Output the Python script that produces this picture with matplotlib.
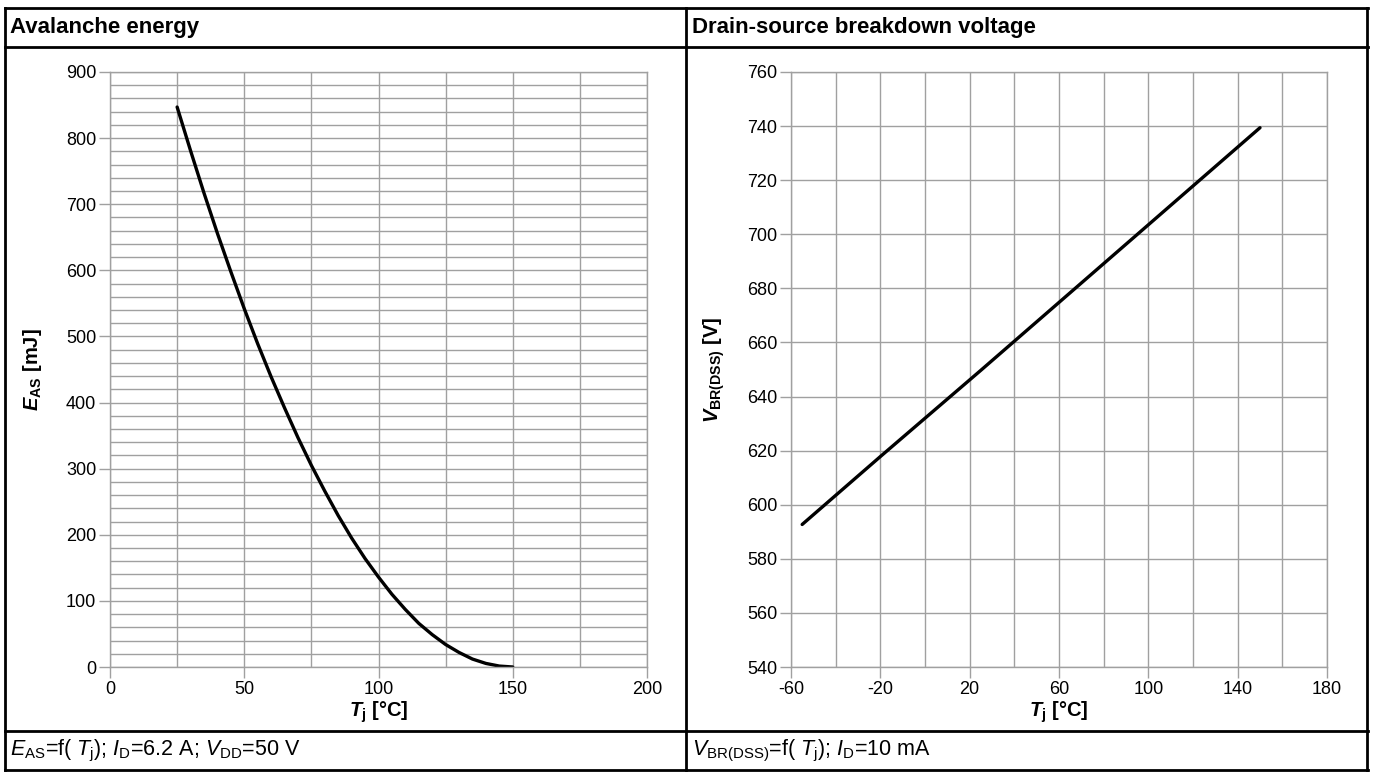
import matplotlib
matplotlib.use("Agg")
import matplotlib.pyplot as plt
from matplotlib.lines import Line2D
import numpy as np

plt.rcParams['font.family'] = ['Liberation Sans', 'DejaVu Sans']
plt.rcParams['mathtext.fontset'] = 'custom'
plt.rcParams['mathtext.rm'] = 'Liberation Sans'
plt.rcParams['mathtext.it'] = 'Liberation Sans:italic'
plt.rcParams['mathtext.bf'] = 'Liberation Sans:bold'
plt.rcParams['mathtext.bfit'] = 'Liberation Sans:bold:italic'
plt.rcParams['axes.unicode_minus'] = False

# ---- data ----
eas_tj = [25, 30, 35, 40, 45, 50, 55, 60, 65, 70, 75, 80, 85, 90, 95, 100,
          105, 110, 115, 120, 125, 130, 135, 140, 145, 150]
eas_mj = [847, 781, 717, 656, 598, 542, 489, 439, 392, 347, 305, 266, 229, 195,
          164, 136, 110, 87, 66, 49, 34, 22, 12, 5.4, 1.4, 0]

vbr_tj = [-55, -20, 25, 60, 100, 150]
vbr_v = [592.7, 617.8, 649.7, 674.8, 703.5, 739.4]

left_xticks = [0, 50, 100, 150, 200]
left_yticks = [0, 100, 200, 300, 400, 500, 600, 700, 800, 900]
right_xticks = [-60, -20, 20, 60, 100, 140, 180]
right_yticks = [540, 560, 580, 600, 620, 640, 660, 680, 700, 720, 740, 760]

W, H = 1374, 772
fig = plt.figure(figsize=(W / 100, H / 100), dpi=100)

def fx(px):
    return px / W

def fy(py):
    return 1 - py / H

GRID = '#a0a0a0'
TICK_FS = 13
LABEL_FS = 14.5

def style_axes(ax):
    for s in ax.spines.values():
        s.set_color(GRID)
        s.set_linewidth(1.0)
    ax.tick_params(axis='both', which='major', direction='out', length=8,
                   width=1.0, color=GRID, labelsize=TICK_FS, pad=2)
    ax.tick_params(axis='both', which='minor', length=0)

# Left axes
axl = fig.add_axes([fx(110), fy(667), fx(537), 595 / H])
axl.set_xlim(0, 200)
axl.set_ylim(0, 900)
axl.set_xticks(left_xticks)
axl.set_yticks(left_yticks)
axl.set_xticks(np.arange(0, 201, 25), minor=True)
axl.set_yticks(np.arange(0, 901, 20), minor=True)
axl.grid(True, which='both', color=GRID, linewidth=1.0)
axl.set_axisbelow(True)
axl.plot(eas_tj, eas_mj, color='black', lw=2.4, solid_capstyle='round')
style_axes(axl)
axl.set_xlabel(r'$\mathbfit{T}_{\mathbf{j}}$ [°C]', fontsize=LABEL_FS, fontweight='bold', labelpad=1)
axl.set_ylabel(r'$\mathbfit{E}_{\mathbf{AS}}$ [mJ]', fontsize=LABEL_FS, fontweight='bold', labelpad=16)

# Right axes
axr = fig.add_axes([fx(791), fy(667), fx(536), 595 / H])
axr.set_xlim(-60, 180)
axr.set_ylim(540, 760)
axr.set_xticks(right_xticks)
axr.set_yticks(right_yticks)
axr.set_xticks(np.arange(-60, 181, 20), minor=True)
axr.grid(True, which='both', color=GRID, linewidth=1.0)
axr.set_axisbelow(True)
axr.plot(vbr_tj, vbr_v, color='black', lw=2.4, solid_capstyle='round')
style_axes(axr)
axr.set_xlabel(r'$\mathbfit{T}_{\mathbf{j}}$ [°C]', fontsize=LABEL_FS, fontweight='bold', labelpad=1)
axr.set_ylabel(r'$\mathbfit{V}_{\mathbf{BR(DSS)}}$ [V]', fontsize=LABEL_FS, fontweight='bold', labelpad=14)

# Frame lines
def hline(y, x0, x1, lw=2.0):
    fig.add_artist(Line2D([fx(x0), fx(x1)], [fy(y), fy(y)], color='black', lw=lw))

def vline(x, y0, y1, lw=2.0):
    fig.add_artist(Line2D([fx(x), fx(x)], [fy(y0), fy(y1)], color='black', lw=lw))

hline(8, 5, 1368)
hline(47, 5, 1368)
hline(731, 5, 1368)
hline(770, 5, 1368)
vline(5, 8, 770)
vline(686, 8, 770)
vline(1367, 8, 770)

# Titles
fig.text(fx(10), fy(28), 'Avalanche energy', fontsize=16, fontweight='bold', va='center', ha='left')
fig.text(fx(692), fy(28), 'Drain-source breakdown voltage', fontsize=16, fontweight='bold', va='center', ha='left')

# Footers
fig.text(fx(10), fy(751), r'$\mathit{E}_{\mathrm{AS}}$=f( $\mathit{T}_{\mathrm{j}}$); $\mathit{I}_{\mathrm{D}}$=6.2 A; $\mathit{V}_{\mathrm{DD}}$=50 V',
         fontsize=15.5, va='center', ha='left')
fig.text(fx(692), fy(751), r'$\mathit{V}_{\mathrm{BR(DSS)}}$=f( $\mathit{T}_{\mathrm{j}}$); $\mathit{I}_{\mathrm{D}}$=10 mA',
         fontsize=15.5, va='center', ha='left')

fig.savefig('out.png', dpi=100)
